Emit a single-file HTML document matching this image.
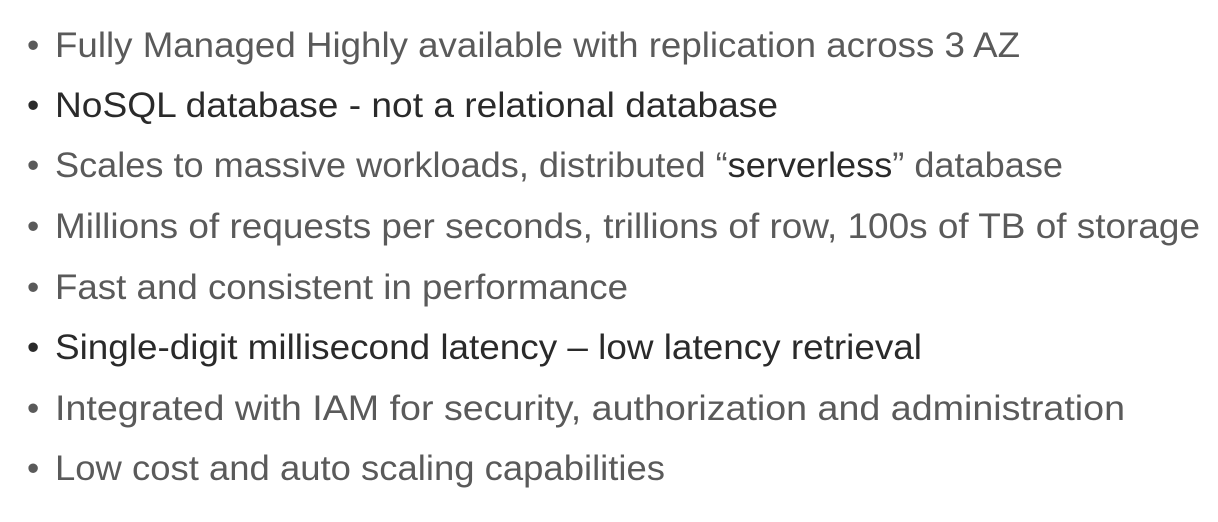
<!DOCTYPE html>
<html><head><meta charset="utf-8"><style>
html,body{margin:0;padding:0;background:#fff;}
svg text{font-family:"Liberation Sans",sans-serif;font-size:35px;}
</style></head><body>
<svg width="1218" height="517" xmlns="http://www.w3.org/2000/svg">
<g fill="#5a5a5a">
<text x="27" y="57">•</text><text x="55" y="57" textLength="965" lengthAdjust="spacingAndGlyphs">Fully Managed Highly available with replication across 3 AZ</text>
<text x="27" y="117" fill="#2a2a2a">•</text><text x="55" y="117" fill="#2a2a2a" textLength="723" lengthAdjust="spacingAndGlyphs">NoSQL database - not a relational database</text>
<text x="27" y="177">•</text><text x="55" y="177" textLength="1008" lengthAdjust="spacingAndGlyphs">Scales to massive workloads, distributed “<tspan fill="#2a2a2a">serverless</tspan>” database</text>
<text x="27" y="238">•</text><text x="55" y="238" textLength="1145" lengthAdjust="spacingAndGlyphs">Millions of requests per seconds, trillions of row, 100s of TB of storage</text>
<text x="27" y="299">•</text><text x="55" y="299" textLength="573" lengthAdjust="spacingAndGlyphs">Fast and consistent in performance</text>
<text x="27" y="359" fill="#2a2a2a">•</text><text x="55" y="359" fill="#2a2a2a" textLength="867" lengthAdjust="spacingAndGlyphs">Single-digit millisecond latency – low latency retrieval</text>
<text x="27" y="420">•</text><text x="55" y="420" textLength="1070" lengthAdjust="spacingAndGlyphs">Integrated with IAM for security, authorization and administration</text>
<text x="27" y="480">•</text><text x="55" y="480" textLength="610" lengthAdjust="spacingAndGlyphs">Low cost and auto scaling capabilities</text>
</g>
</svg>
</body></html>
